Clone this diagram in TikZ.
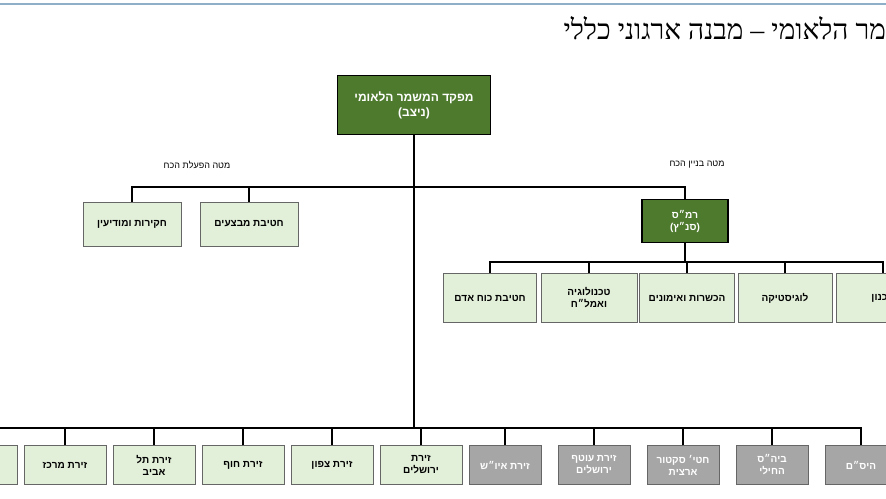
\documentclass[tikz,border=0pt]{standalone}
\usepackage{fontspec}
\setmainfont{Liberation Sans}
\newfontfamily\titlefont{Liberation Serif}
\TeXXeTstate=1
\newcommand{\heb}[1]{{\beginR #1\endR}}
\definecolor{cmdgreen}{HTML}{4E7A2E}
\definecolor{unitgreen}{HTML}{E2EFD9}
\definecolor{unitgrey}{HTML}{A6A6A6}
\definecolor{topblue}{HTML}{8FAFC8}
\begin{document}
\begin{tikzpicture}[x=1pt, y=-1pt, font=\bfseries\fontsize{10}{12}\selectfont,
  cmd/.style={draw=black, line width=1.8pt, fill=cmdgreen, text=white, align=center, inner sep=1pt},
  unit/.style={draw=black!60, fill=unitgreen, align=center, minimum height=44pt, inner sep=1pt},
  sector/.style={draw=black!60, fill=unitgrey, text=white, align=center, minimum width=72pt, minimum height=39pt, inner sep=1pt},
  bar/.style={line width=2.4pt}]
\useasboundingbox (0,0) rectangle (886,498);
\clip (0,0) rectangle (886,498);
% Frame
\draw[topblue, line width=2.5pt] (0,4) -- (886,4);
\node[font=\titlefont\fontsize{28}{30}\selectfont, anchor=east] (title) at (942,28) {\heb{המשמר הלאומי – מבנה ארגוני כללי}};
% Commander
\node[cmd, minimum width=153pt, minimum height=59pt, font=\bfseries\fontsize{12}{15}\selectfont] (cmdr) at (414,105) {\heb{מפקד המשמר הלאומי}\\\heb{(ניצב)}};
\node[cmd, minimum width=86pt, minimum height=43pt] (rms) at (685,221) {\heb{רמ״ס}\\\heb{(סנ״ץ)}};
\node[font=\fontsize{9}{10}\selectfont] (lbuild) at (697,165) {\heb{מטה בניין הכח}};
\node[font=\fontsize{9}{10}\selectfont] (lops) at (197,165) {\heb{מטה הפעלת הכח}};
% Ops staff
\node[unit, minimum width=98pt] (intel) at (132,224) {\heb{חקירות ומודיעין}};
\node[unit, minimum width=98pt] (opsdiv) at (249,224) {\heb{חטיבת מבצעים}};
% Build staff
\node[unit, minimum width=93pt, minimum height=49pt] (hr) at (490,298) {\heb{חטיבת כוח אדם}};
\node[unit, minimum width=96pt, minimum height=49pt] (tech) at (589,298) {\heb{טכנולוגיה}\\\heb{ואמל״ח}};
\node[unit, minimum width=95pt, minimum height=49pt] (train) at (687,298) {\heb{הכשרות ואימונים}};
\node[unit, minimum width=94pt, minimum height=49pt] (logi) at (785,298) {\heb{לוגיסטיקה}};
\node[unit, minimum width=94pt, minimum height=49pt] (plan) at (883,298) {\heb{תכנון}};
% Sectors
\node[unit, minimum width=82pt, minimum height=39pt] (jlm) at (421,465) {\heb{זירת}\\\heb{ירושלים}};
\node[unit, minimum width=82pt, minimum height=39pt] (north) at (332,465) {\heb{זירת צפון}};
\node[unit, minimum width=82pt, minimum height=39pt] (coast) at (243,465) {\heb{זירת חוף}};
\node[unit, minimum width=82pt, minimum height=39pt] (tlv) at (154,465) {\heb{זירת תל}\\\heb{אביב}};
\node[unit, minimum width=82pt, minimum height=39pt] (center) at (65,465) {\heb{זירת מרכז}};
\node[unit, minimum width=82pt, minimum height=39pt] (south) at (-24,465) {\heb{זירת דרום}};
\node[sector] (ayosh) at (505,465) {\heb{זירת איו״ש}};
\node[sector] (otef) at (594,465) {\heb{זירת עוטף}\\\heb{ירושלים}};
\node[sector] (sector) at (683,465) {\heb{חטי׳ סקטור}\\\heb{ארצית}};
\node[sector] (school) at (772,465) {\heb{ביה״ס}\\\heb{החילי}};
\node[sector] (yasam) at (861,465) {\heb{היס״ם}};
% Connectors
\coordinate (hub) at (cmdr.south |- 0,187);
\coordinate (low) at (cmdr.south |- 0,428);
\draw[bar] (cmdr.south) -- (low);
\draw[bar] (intel.north) |- (hub) -| (rms.north);
\draw[bar] (opsdiv.north) -- (opsdiv.north |- hub);
\coordinate (mid) at (rms.south |- 0,262);
\draw[bar] (rms.south) -- (mid);
\draw[bar] (hr.north) |- (mid) -| (plan.north);
\foreach \n in {tech,train,logi} \draw[bar] (\n.north) -- (\n.north |- mid);
\draw[bar] (south.north) |- (low) -| (yasam.north);
\foreach \n in {jlm,north,coast,tlv,center,ayosh,otef,sector,school}
  \draw[bar] (\n.north) -- (\n.north |- low);
\end{tikzpicture}
\end{document}
